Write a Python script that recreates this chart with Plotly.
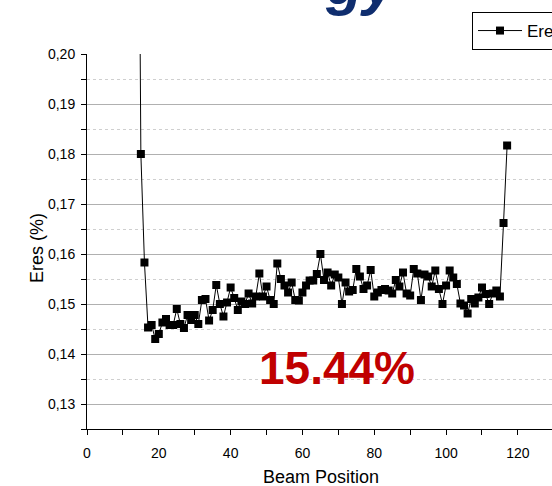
import plotly.graph_objects as go

# Beam position index and energy resolution (%) at each position
positions = [14, 15, 16, 17, 18, 19, 20, 21, 22, 23, 24, 25, 26, 27, 28, 29,
             30, 31, 32, 33, 34, 35, 36, 37, 38, 39, 40, 41, 42, 43, 44, 45,
             46, 47, 48, 49, 50, 51, 52, 53, 54, 55, 56, 57, 58, 59, 60, 61,
             62, 63, 64, 65, 66, 67, 68, 69, 70, 71, 72, 73, 74, 75, 76, 77,
             78, 79, 80, 81, 82, 83, 84, 85, 86, 87, 88, 89, 90, 91, 92, 93,
             94, 95, 96, 97, 98, 99, 100, 101, 102, 103, 104, 105, 106, 107,
             108, 109, 110, 111, 112, 113, 114, 115, 116, 117]
eres = [0.290, 0.1800, 0.1583, 0.1453, 0.1458, 0.1430, 0.1440, 0.1463,
        0.1470, 0.1458, 0.1458, 0.1490, 0.1460, 0.1452, 0.1478, 0.1468,
        0.1478, 0.1460, 0.1508, 0.1510, 0.1467, 0.1488, 0.1538, 0.1500,
        0.1475, 0.1503, 0.1533, 0.1512, 0.1488, 0.1505, 0.1500, 0.1521,
        0.1501, 0.1515, 0.1561, 0.1515, 0.1535, 0.1508, 0.1500, 0.1581,
        0.1550, 0.1537, 0.1523, 0.1543, 0.1508, 0.1507, 0.1523, 0.1537,
        0.1547, 0.1547, 0.1560, 0.1600, 0.1548, 0.1563, 0.1537, 0.1559,
        0.1553, 0.1500, 0.1543, 0.1525, 0.1528, 0.1570, 0.1555, 0.1530,
        0.1537, 0.1568, 0.1515, 0.1523, 0.1528, 0.1530, 0.1527, 0.1521,
        0.1548, 0.1535, 0.1563, 0.1521, 0.1517, 0.1570, 0.1561, 0.1508,
        0.1559, 0.1555, 0.1535, 0.1567, 0.1530, 0.1500, 0.1537, 0.1567,
        0.1553, 0.1540, 0.1501, 0.1497, 0.1481, 0.1510, 0.1501, 0.1513,
        0.1533, 0.1520, 0.1500, 0.1521, 0.1527, 0.1515, 0.1662, 0.1817]

y_ticks = [0.13, 0.14, 0.15, 0.16, 0.17, 0.18, 0.19, 0.20]
x_ticks = [0, 20, 40, 60, 80, 100, 120]
average_label = "15.44%"

FONT = "Liberation Sans, Arial, sans-serif"

fig = go.Figure()
fig.add_trace(go.Scatter(
    x=positions, y=eres, name="Eres", mode="lines+markers",
    line=dict(color="black", width=1),
    marker=dict(symbol="square", size=8, color="black"),
))

fig.update_layout(
    width=552, height=486,
    margin=dict(l=87, r=0, t=54, b=57, autoexpand=False),
    paper_bgcolor="white", plot_bgcolor="white",
    separators=", ",
    font=dict(family=FONT, color="black", size=14),
    showlegend=True,
    legend=dict(
        x=0.828, y=1.112, xanchor="left", yanchor="top",
        bordercolor="black", borderwidth=1, bgcolor="white",
        font=dict(size=17, family=FONT), itemwidth=44,
    ),
)

fig.update_xaxes(
    range=[0, 129.5], tickvals=x_ticks, ticks="outside", ticklen=5,
    tickcolor="black", showline=True, linecolor="black", linewidth=1,
    showgrid=False, zeroline=False, ticklabelstandoff=6,
    minor=dict(dtick=10, ticks="outside", ticklen=5, tickcolor="black"),
    tickfont=dict(size=14),
)
fig.update_yaxes(
    range=[0.125, 0.20], tickvals=y_ticks, tickformat=".2f",
    ticks="outside", ticklen=5, tickcolor="black",
    showline=True, linecolor="black", linewidth=1,
    showgrid=True, gridcolor="#b0b0b0", gridwidth=1, zeroline=False,
    ticklabelstandoff=3,
    minor=dict(dtick=0.005, tick0=0.125, ticks="outside", ticklen=5,
               tickcolor="black", showgrid=True, gridcolor="#cfcfcf",
               griddash="dot"),
    tickfont=dict(size=14),
)

# axis titles
fig.add_annotation(text="Eres (%)", xref="paper", yref="paper",
                   x=-0.107, y=0.483, xanchor="center", yanchor="middle",
                   textangle=-90, showarrow=False,
                   font=dict(size=18, family=FONT))
fig.add_annotation(text="Beam Position", xref="paper", yref="paper",
                   x=0.503, y=-0.128, xanchor="center", yanchor="middle",
                   showarrow=False, font=dict(size=18, family=FONT))

# highlighted average resolution
fig.add_annotation(text="<b>" + average_label + "</b>", xref="x", yref="y",
                   x=69.6, y=0.1372, xanchor="center", yanchor="middle",
                   showarrow=False,
                   font=dict(size=46, family=FONT, color="#c00000"))

# slide heading above the chart
fig.add_annotation(text="<b><i>gy</i></b>", xref="paper", yref="paper",
                   x=0.591, y=1.094, xanchor="center", yanchor="bottom",
                   showarrow=False,
                   font=dict(size=60, family=FONT, color="#0f2d6e"))

fig.write_html("out.html")
